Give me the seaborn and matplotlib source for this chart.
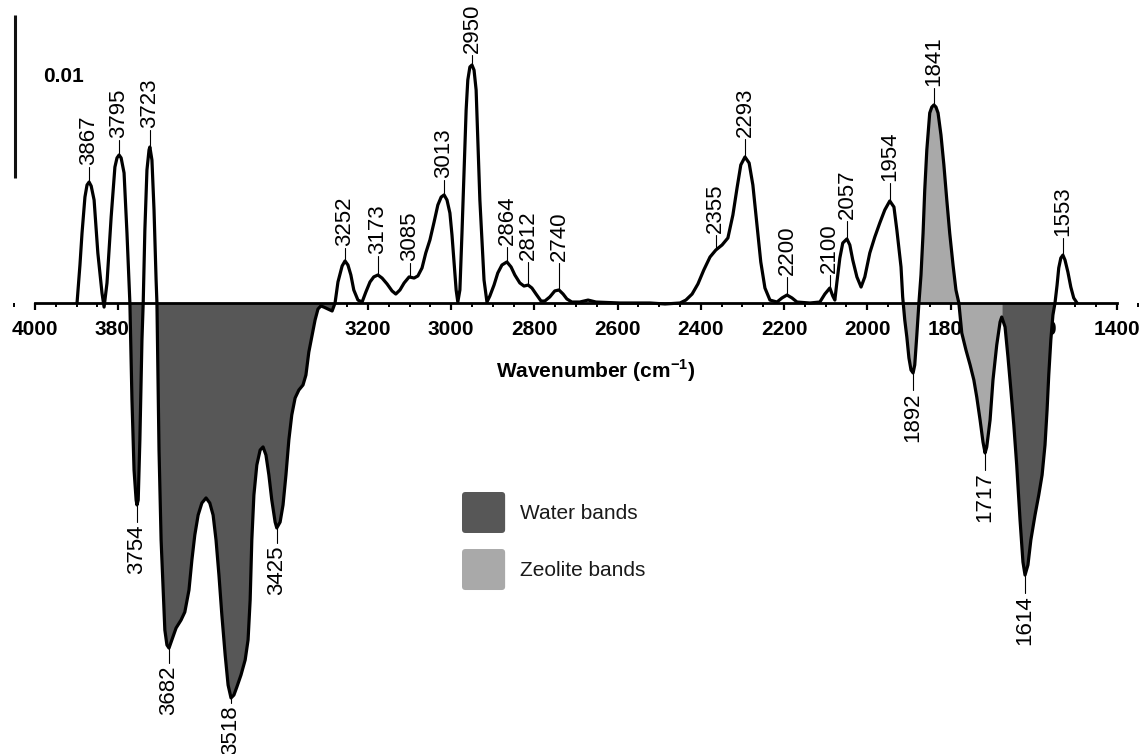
import numpy as np
import pandas as pd
import matplotlib
matplotlib.use("Agg")
import matplotlib.pyplot as plt
from matplotlib.patches import Patch, FancyBboxPatch
from matplotlib.legend_handler import HandlerPatch
from matplotlib.ticker import MultipleLocator
import seaborn as sns

# ------------------------------------------
# data
# wavenumber in cm-1, absorbance change in units of 1e-3
# ------------------------------------------
wavenumber = [
    3899, 3892, 3887, 3880, 3875, 3870, 3865, 3858, 3849, 3839,
    3834, 3827, 3817, 3808, 3803, 3798, 3793, 3786, 3779, 3772,
    3767, 3762, 3757, 3755, 3752, 3748, 3743, 3740, 3736, 3731,
    3726, 3724, 3719, 3714, 3709, 3707, 3702, 3697, 3692, 3688,
    3683, 3678, 3671, 3661, 3649, 3640, 3630, 3623, 3616, 3608,
    3599, 3589, 3580, 3572, 3565, 3558, 3551, 3543, 3536, 3529,
    3522, 3515, 3505, 3495, 3488, 3483, 3479, 3474, 3467, 3459,
    3452, 3445, 3438, 3431, 3423, 3419, 3411, 3404, 3397, 3390,
    3383, 3375, 3366, 3356, 3349, 3342, 3334, 3327, 3320, 3313,
    3306, 3296, 3286, 3279, 3272, 3262, 3255, 3248, 3241, 3234,
    3224, 3214, 3205, 3195, 3186, 3176, 3166, 3154, 3142, 3133,
    3123, 3113, 3101, 3089, 3080, 3070, 3061, 3051, 3041, 3032,
    3024, 3017, 3010, 3003, 2998, 2993, 2988, 2984, 2979, 2974,
    2969, 2964, 2960, 2955, 2950, 2945, 2940, 2936, 2931, 2926,
    2921, 2914, 2907, 2897, 2888, 2878, 2866, 2856, 2847, 2835,
    2825, 2815, 2806, 2796, 2784, 2775, 2763, 2751, 2741, 2731,
    2722, 2710, 2691, 2671, 2652, 2594, 2522, 2486, 2450, 2436,
    2421, 2407, 2393, 2378, 2364, 2349, 2335, 2323, 2313, 2304,
    2294, 2284, 2275, 2265, 2256, 2246, 2234, 2217, 2205, 2193,
    2181, 2169, 2138, 2114, 2102, 2090, 2083, 2078, 2073, 2066,
    2059, 2049, 2042, 2035, 2025, 2015, 2006, 1994, 1982, 1970,
    1958, 1946, 1936, 1929, 1919, 1915, 1910, 1905, 1900, 1895,
    1890, 1886, 1881, 1876, 1871, 1866, 1862, 1857, 1850, 1845,
    1840, 1835, 1830, 1823, 1816, 1809, 1802, 1794, 1787, 1780,
    1773, 1763, 1753, 1744, 1737, 1729, 1722, 1717, 1713, 1705,
    1698, 1689, 1681, 1677, 1669, 1662, 1655, 1648, 1641, 1633,
    1626, 1621, 1614, 1607, 1597, 1588, 1580, 1573, 1568, 1564,
    1559, 1554, 1549, 1544, 1540, 1535, 1530, 1525, 1518, 1511,
    1504, 1496,
]
absorbance_e3 = [
    0, 2.33, 4.29, 6.50, 7.24, 7.42, 7.18, 6.32, 3.07, 0.61,
    -0.25, 1.23, 5.28, 8.34, 8.90, 9.08, 8.90, 7.98, 4.29, 0,
    -5.95, -10.25, -12.09, -12.39, -12.09, -8.40, -2.27, 0, 4.48, 8.16,
    9.39, 9.57, 8.77, 5.71, 1.41, 0, -9.02, -14.54, -17.61, -20.06,
    -20.98, -21.17, -20.67, -19.94, -19.45, -18.96, -17.61, -15.77, -14.23, -13.01,
    -12.27, -11.96, -12.27, -13.01, -14.54, -16.69, -19.14, -21.60, -23.44, -24.23,
    -24.05, -23.56, -22.82, -21.90, -20.67, -18.22, -14.54, -11.78, -9.94, -9.02,
    -8.83, -9.33, -10.55, -12.09, -13.44, -13.80, -13.44, -12.39, -10.55, -8.40,
    -6.87, -5.83, -5.34, -5.03, -4.42, -3.01, -1.96, -1.04, -0.37, -0.18,
    -0.25, -0.37, -0.49, 0, 1.29, 2.27, 2.58, 2.33, 1.72, 0.80,
    0.18, 0.06, 0.67, 1.29, 1.60, 1.72, 1.53, 1.17, 0.74, 0.55,
    0.80, 1.23, 1.60, 1.53, 1.66, 2.15, 3.07, 3.87, 4.97, 6.01,
    6.50, 6.63, 6.32, 5.52, 4.17, 2.45, 0.80, 0.06, 0.80, 4.29,
    8.16, 11.84, 13.68, 14.48, 14.60, 14.29, 13.07, 10.00, 6.32, 3.87,
    1.41, 0.06, 0.43, 1.10, 1.84, 2.33, 2.52, 2.21, 1.72, 1.23,
    1.04, 1.10, 0.92, 0.55, 0.12, 0.12, 0.37, 0.74, 0.80, 0.55,
    0.25, 0.06, 0.06, 0.18, 0.06, 0, 0, -0.06, 0, 0.18,
    0.55, 1.17, 2.02, 2.82, 3.25, 3.56, 3.99, 5.40, 7.06, 8.47,
    8.96, 8.59, 7.24, 4.79, 2.52, 0.92, 0.18, 0.06, 0.31, 0.49,
    0.31, 0.06, 0, 0.06, 0.55, 0.92, 0.43, 0.18, 1.29, 2.76,
    3.68, 3.93, 3.56, 2.64, 1.60, 0.98, 1.60, 3.07, 4.05, 4.91,
    5.71, 6.26, 5.89, 4.48, 2.21, 0.37, -1.04, -2.09, -3.37, -4.11,
    -4.29, -3.80, -1.96, 0, 1.72, 4.29, 6.93, 9.39, 11.66, 12.02,
    12.15, 12.02, 11.66, 10.31, 8.47, 6.32, 4.29, 2.33, 0.80, 0,
    -1.84, -2.88, -3.80, -4.72, -5.77, -7.18, -8.53, -9.20, -8.83, -7.18,
    -4.72, -2.58, -1.17, -0.86, -1.47, -3.31, -5.34, -7.48, -9.94, -13.31,
    -15.89, -16.69, -16.07, -14.54, -13.01, -11.78, -10.55, -8.71, -6.56, -4.42,
    -2.27, -0.74, 0, 1.10, 2.15, 2.76, 2.94, 2.64, 1.90, 0.98,
    0.31, 0,
]

# peak assignments (text, position on the curve)
peak_labels = ["3867", "3795", "3723", "3754", "3682", "3518", "3425", "3252",
               "3173", "3085", "3013", "2950", "2864", "2812", "2740", "2355",
               "2293", "2200", "2100", "2057", "1954", "1892", "1841", "1717",
               "1614", "1553"]
peak_wn = [3870, 3798, 3724, 3755, 3678, 3529, 3419, 3255,
           3176, 3099, 3017, 2950, 2866, 2815, 2741, 2364,
           2294, 2193, 2090, 2049, 1946, 1890, 1840, 1717,
           1621, 1530]

# shaded band ranges (high, low wavenumber)
water_bands = [(3775, 3275), (1677, 1549)]
zeolite_bands = [(1912, 1677)]
legend_labels = ["Water bands", "Zeolite bands"]
SCALE_BAR = 0.01

WATER_COLOR = "#575757"
ZEOLITE_COLOR = "#a9a9a9"

# ------------------------------------------
# figure
# ------------------------------------------
sns.set_theme(style="white")
plt.rcParams["font.family"] = ["Liberation Sans", "DejaVu Sans"]
plt.rcParams["mathtext.fontset"] = "custom"
plt.rcParams["mathtext.rm"] = "Liberation Sans"
plt.rcParams["mathtext.bf"] = "Liberation Sans:bold"

W, H = 1143, 754
fig = plt.figure(figsize=(W / 100, H / 100), dpi=100)
ax = fig.add_axes([0, 0, 1, 1])

x = np.array(wavenumber, dtype=float)
y = np.array(absorbance_e3) * 1e-3
df = pd.DataFrame({"wn": x, "A": y})

# px -> data helpers (axis 4000..1400 spans px 35..1117, 0.01 = 163 px)
px_x = 2600 / 1082
px_y = SCALE_BAR / 163
ax.set_xlim(4000 + 35 * px_x, 1400 - (W - 1117) * px_x)
ax.set_ylim(-(H - 303) * px_y, 303 * px_y)

# band shading
for hi, lo in water_bands:
    m = (x <= hi) & (x >= lo) & (y <= 0)
    ax.fill_between(x, y, 0, where=m, interpolate=True, color=WATER_COLOR,
                    lw=0, zorder=1)
for hi, lo in zeolite_bands:
    m = (x <= hi) & (x >= lo)
    ax.fill_between(x, y, 0, where=m, interpolate=True, color=ZEOLITE_COLOR,
                    lw=0, zorder=1)

sns.lineplot(data=df, x="wn", y="A", sort=False, estimator=None, color="black",
             lw=2.3, ax=ax, zorder=3)
ax.lines[-1].set_solid_capstyle("round")
ax.lines[-1].set_solid_joinstyle("round")

# peak labels with short stems
stem_px = [15, 15, 17, 17, 15, 5, 15, 13, 19, 14, 15, 10, 15, 23, 27, 15,
           18, 18, 13, 18, 18, 17, 17, 17, 18, 17]
order = np.argsort(x)
for txt, wn, st in zip(peak_labels, peak_wn, stem_px):
    tip = np.interp(wn, x[order], y[order])
    sgn = 1 if tip > 0 else -1
    end = tip + sgn * st * px_y
    ax.plot([wn, wn], [tip, end], color="black", lw=0.8, zorder=2)
    ax.annotate(txt, (wn, end), xytext=(0, sgn * 1.5), textcoords="offset points",
                rotation=90, rotation_mode="anchor",
                ha="left" if sgn > 0 else "right", va="center",
                fontsize=16, color="black")

# axis at zero
for s in ["left", "right", "top"]:
    ax.spines[s].set_visible(False)
ax.spines["bottom"].set_position(("data", 0))
ax.spines["bottom"].set_bounds(1400, 4000)
ax.spines["bottom"].set_linewidth(2)
ax.spines["bottom"].set_color("black")
ax.spines["bottom"].set_zorder(2.5)
ticks = list(range(1400, 4001, 200))
ax.set_xticks(ticks)
ax.set_xticklabels([str(t) for t in ticks], fontweight="bold")
ax.xaxis.set_minor_locator(MultipleLocator(50))
ax.tick_params(axis="x", which="major", direction="out", length=5, width=1.6,
               labelsize=15, pad=7, color="black", labelcolor="black", bottom=True)
ax.tick_params(axis="x", which="minor", direction="out", length=3, width=1.4,
               color="black", bottom=True)
ax.set_yticks([])
ax.set_ylabel("")

ax.set_xlabel("Wavenumber (cm$^{\\mathbf{-1}}$)", fontsize=15, fontweight="bold",
              color="black")
ax.xaxis.set_label_coords(596 / W, 1 - 371 / H)
ax.xaxis.label.set_va("center")

# scale bar
bar_x = 4000 + 20 * px_x
bar_lo = 125 * px_y
ax.plot([bar_x, bar_x], [bar_lo, bar_lo + SCALE_BAR], color="#111111", lw=2.2,
        solid_capstyle="butt")
ax.text(4000 - 8 * px_x, bar_lo + 0.0062, f"{SCALE_BAR:g}", fontsize=15,
        fontweight="bold", ha="left", va="center", color="black")

# legend with rounded swatches
def rounded_swatch(legend, orig_handle, xdescent, ydescent, width, height, fontsize):
    return FancyBboxPatch((-xdescent, -ydescent), width, height,
                          boxstyle="round,pad=0,rounding_size=2.5")

handles = [Patch(facecolor=c, edgecolor="none", label=l)
           for c, l in zip([WATER_COLOR, ZEOLITE_COLOR], legend_labels)]
ax.legend(handles=handles, handler_map={Patch: HandlerPatch(patch_func=rounded_swatch)},
          loc="upper left", bbox_to_anchor=(462 / W, 1 - 492 / H),
          bbox_transform=fig.transFigure, frameon=False, fontsize=15,
          handlelength=2.07, handleheight=2.65, handletextpad=0.72,
          labelspacing=0.77, borderpad=0, borderaxespad=0, labelcolor="#1a1a1a")

fig.savefig("out.png", dpi=100)
